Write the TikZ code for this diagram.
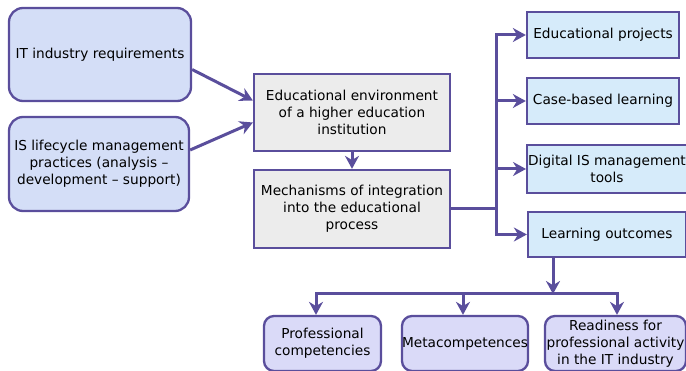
\documentclass[tikz,border=0pt]{standalone}
\usepackage{fontspec}
\setmainfont{DejaVu Sans}
\usetikzlibrary{arrows.meta}
\usetikzlibrary{calc}

\definecolor{edge}{HTML}{5A4E9C}
\definecolor{srcfill}{HTML}{D4DEF7}
\definecolor{envfill}{HTML}{ECECEC}
\definecolor{toolfill}{HTML}{D6EBFA}
\definecolor{resfill}{HTML}{DADAF8}

\tikzset{
  box/.style={draw=edge, line width=2.3pt, align=center, inner sep=1pt,
    font=\fontsize{13.7}{17}\selectfont},
  srcbox/.style={box, fill=srcfill, rounded corners=14pt},
  envbox/.style={box, fill=envfill},
  toolbox/.style={box, fill=toolfill},
  resbox/.style={box, fill=resfill, rounded corners=10pt},
  flow/.style={draw=edge, line width=3pt, -{Stealth[length=13pt,width=14pt]}},
  link/.style={draw=edge, line width=3pt}
}

\begin{document}
\begin{tikzpicture}[x=1pt, y=1pt]
  \useasboundingbox (0,0) rectangle (686,-371);

  % sources
  \node [srcbox, minimum width=182pt, minimum height=93pt] (it) at (100,-54.5) {IT industry requirements};
  \node [srcbox, minimum width=180pt, minimum height=94pt] (is) at (99,-164) {IS lifecycle management\\practices (analysis --\\development -- support)};

  % environment and mechanisms
  \node [envbox, minimum width=196pt, minimum height=77pt] (env) at (352,-112.5) {Educational environment\\of a higher education\\institution};
  \node [envbox, minimum width=196pt, minimum height=78pt] (mech) at (352,-209) {Mechanisms of integration\\into the educational\\process};

  % tools
  \node [toolbox, minimum width=152pt, minimum height=46pt] (proj) at (603,-35) {Educational projects};
  \node [toolbox, minimum width=152pt, minimum height=46pt] (case) at (603,-101) {Case-based learning};
  \node [toolbox, minimum width=156pt, minimum height=48pt] (dig) at (607,-169) {Digital IS management\\tools};
  \node [toolbox, minimum width=158pt, minimum height=45pt] (outc) at (607,-234.5) {Learning outcomes};

  % results
  \node [resbox, minimum width=117pt, minimum height=55pt] (prof) at (322.5,-343.5) {Professional\\competencies};
  \node [resbox, minimum width=120pt, minimum height=55pt, inner xsep=0pt] (meta) at (465,-343.5) {Metacompetences};
  \node [resbox, minimum width=141pt, minimum height=55pt] (ready) at (615.5,-343.5) {Readiness for\\professional activity\\in the IT industry};

  \coordinate (bus) at (496,-209);
  \coordinate (split) at (553,-294);

  \draw [flow] ($(it.east)+(0,-15)$) -- ($(env.west)+(0,12)$);
  \draw [flow] ($(is.east)+(0,14)$) -- ($(env.west)+(0,-10)$);
  \draw [flow] (env.south) -- (mech.north);

  \draw [link] (mech.east) -- (bus);
  \foreach \t in {proj,case,dig,outc}
    \draw [flow] (bus) |- (\t.west);

  \draw [flow] (outc.south -| split) -- (split);
  \draw [flow] (split) -| ([xshift=-6.5pt]prof.north);
  \draw [flow] (split) -| ([xshift=-2pt]meta.north);
  \draw [flow] (split) -| ([xshift=1.5pt]ready.north);

\end{tikzpicture}
\end{document}
